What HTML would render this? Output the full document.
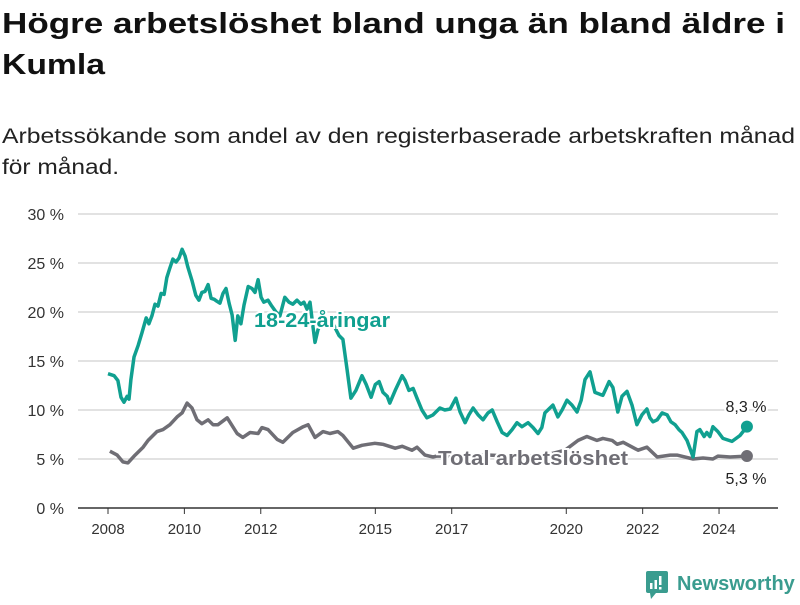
<!DOCTYPE html>
<html><head><meta charset="utf-8"><style>
body{margin:0;width:800px;height:600px;background:#fff;font-family:"Liberation Sans",sans-serif;overflow:hidden;position:relative}
svg{position:absolute;left:0;top:0}
</style></head><body>
<svg width="800" height="190" style="z-index:2">
<text x="2" y="33" font-size="29" font-weight="bold" fill="#111" textLength="783" lengthAdjust="spacingAndGlyphs">Högre arbetslöshet bland unga än bland äldre i</text>
<text x="2" y="74" font-size="29" font-weight="bold" fill="#111" textLength="103" lengthAdjust="spacingAndGlyphs">Kumla</text>
<text x="2" y="143" font-size="21" fill="#222" textLength="793" lengthAdjust="spacingAndGlyphs">Arbetssökande som andel av den registerbaserade arbetskraften månad</text>
<text x="2" y="174" font-size="21" fill="#222" textLength="117" lengthAdjust="spacingAndGlyphs">för månad.</text>
</svg>
<svg id="chart" width="800" height="600"></svg>
<script>
const yTicks=[0,5,10,15,20,25,30];
const xTicks=[2008,2010,2012,2015,2017,2020,2022,2024];
const youthT=[2008.00,2008.16,2008.26,2008.34,2008.42,2008.50,2008.55,2008.60,2008.68,2008.79,2008.89,2009.00,2009.07,2009.15,2009.23,2009.31,2009.39,2009.47,2009.54,2009.62,2009.70,2009.78,2009.86,2009.94,2010.02,2010.09,2010.20,2010.30,2010.38,2010.46,2010.54,2010.62,2010.70,2010.78,2010.85,2010.93,2011.01,2011.09,2011.17,2011.25,2011.33,2011.40,2011.48,2011.56,2011.67,2011.77,2011.85,2011.93,2012.01,2012.08,2012.19,2012.27,2012.40,2012.50,2012.63,2012.74,2012.84,2012.95,2013.05,2013.13,2013.21,2013.29,2013.37,2013.42,2013.50,2013.60,2013.73,2013.87,2013.97,2014.05,2014.15,2014.26,2014.36,2014.49,2014.65,2014.76,2014.89,2015.00,2015.10,2015.20,2015.31,2015.38,2015.52,2015.70,2015.78,2015.88,2015.99,2016.09,2016.22,2016.35,2016.51,2016.69,2016.82,2016.96,2017.11,2017.22,2017.35,2017.45,2017.56,2017.69,2017.82,2017.95,2018.06,2018.19,2018.32,2018.45,2018.58,2018.71,2018.84,2019.00,2019.13,2019.26,2019.36,2019.44,2019.65,2019.78,2019.89,2020.02,2020.15,2020.28,2020.39,2020.49,2020.62,2020.75,2020.88,2020.96,2021.12,2021.22,2021.35,2021.46,2021.59,2021.72,2021.85,2021.98,2022.11,2022.19,2022.27,2022.38,2022.51,2022.64,2022.74,2022.85,2022.95,2023.03,2023.16,2023.32,2023.42,2023.50,2023.61,2023.68,2023.76,2023.84,2023.97,2024.10,2024.34,2024.55,2024.73];
const youthV=[13.7,13.5,13.0,11.3,10.8,11.4,11.1,13.1,15.4,16.6,17.9,19.4,18.8,19.6,20.8,20.6,21.9,21.8,23.5,24.5,25.4,25.1,25.5,26.4,25.7,24.6,23.2,21.7,21.2,22.0,22.1,22.8,21.4,21.3,21.1,20.9,21.9,22.4,20.9,19.7,17.1,19.6,18.8,20.7,22.6,22.4,22.0,23.3,21.5,21.0,21.2,20.7,20.0,19.6,21.5,21.0,20.8,21.2,20.8,21.0,20.3,21.0,18.4,16.9,18.2,19.0,19.0,19.0,18.2,17.6,17.2,14.1,11.2,12.0,13.5,12.6,11.3,12.6,12.9,11.8,11.4,10.7,12.0,13.5,13.0,12.0,12.2,11.2,10.0,9.2,9.5,10.2,10.0,10.1,11.2,9.8,8.7,9.5,10.2,9.5,9.0,9.7,10.0,8.8,7.7,7.4,8.0,8.7,8.3,8.7,8.2,7.6,8.2,9.7,10.5,9.3,10.0,11.0,10.5,9.8,11.0,13.1,13.9,11.8,11.6,11.5,12.9,12.3,9.8,11.4,11.9,10.5,8.5,9.5,10.1,9.2,8.8,9.0,9.7,9.5,8.8,8.5,8.0,7.7,6.9,5.2,7.8,8.0,7.3,7.7,7.3,8.3,7.8,7.1,6.8,7.4,8.3];
const totalT=[2008.05,2008.24,2008.39,2008.52,2008.71,2008.92,2009.05,2009.28,2009.44,2009.62,2009.81,2009.94,2010.07,2010.20,2010.33,2010.46,2010.62,2010.75,2010.88,2011.12,2011.38,2011.53,2011.72,2011.93,2012.03,2012.19,2012.43,2012.58,2012.84,2013.11,2013.24,2013.42,2013.63,2013.81,2014.02,2014.15,2014.42,2014.65,2014.81,2014.99,2015.20,2015.52,2015.70,2015.96,2016.09,2016.30,2016.51,2016.61,2016.96,2017.48,2018.00,2018.53,2019.05,2019.57,2019.97,2020.31,2020.54,2020.80,2020.96,2021.20,2021.33,2021.49,2021.88,2022.11,2022.38,2022.72,2022.90,2023.32,2023.58,2023.84,2023.97,2024.29,2024.73];
const totalV=[5.8,5.4,4.7,4.6,5.4,6.2,6.9,7.8,8.0,8.5,9.3,9.7,10.7,10.2,9.0,8.6,9.0,8.5,8.5,9.2,7.6,7.2,7.7,7.6,8.2,8.0,7.0,6.7,7.7,8.3,8.5,7.2,7.8,7.6,7.8,7.4,6.1,6.4,6.5,6.6,6.5,6.1,6.3,5.9,6.2,5.4,5.2,5.3,5.3,5.4,5.4,5.3,5.3,5.5,5.9,6.9,7.3,6.9,7.1,6.9,6.5,6.7,5.9,6.2,5.2,5.4,5.4,5.0,5.1,5.0,5.3,5.2,5.3];
const NS="http://www.w3.org/2000/svg";
const svg=document.getElementById('chart');
const X=t=>108+(t-2008)*38.19;
const Y=v=>508-v*9.8;
function mk(tag,attrs,parent){const e=document.createElementNS(NS,tag);for(const k in attrs)e.setAttribute(k,attrs[k]);(parent||svg).appendChild(e);return e;}
yTicks.forEach(v=>{
  const l=mk('line',{x1:78,x2:778,y1:Y(v),y2:Y(v),stroke:v===0?'#333':'#d9d9d9','stroke-width':1.5});
  
  
  const t=mk('text',{x:64,y:Y(v)+6,'text-anchor':'end','font-size':16,fill:'#333'});
  t.textContent=v+' %';
  
  
});
xTicks.forEach(yr=>{
  const l=mk('line',{x1:X(yr),x2:X(yr),y1:508,y2:514,stroke:'#333','stroke-width':1});
  
  
  const t=mk('text',{x:X(yr),y:534,'text-anchor':'middle','font-size':15,fill:'#333'});
  t.textContent=yr;
  
  
});
function line(T,V,color,name){
  const d=T.map((t,i)=>(i?'L':'M')+X(t).toFixed(1)+','+Y(V[i]).toFixed(1)).join('');
  const p=mk('path',{d:d,fill:'none',stroke:color,'stroke-width':3.5,'stroke-linejoin':'round'});
  
  
  const n=T.length-1;
  const c=mk('circle',{cx:X(T[n]),cy:Y(V[n]),r:6,fill:color});
  
  
}
line(totalT,totalV,'#6f6e75','total-line');
line(youthT,youthV,'#10a090','youth-line');
function label(x,y,txt,color,name,anchor,weight,size,len){
  const a={x:x,y:y,'text-anchor':anchor,'font-size':size,'font-weight':weight,fill:color,stroke:'#fff','stroke-width':4,'paint-order':'stroke'};
  if(len){a.textLength=len;a.lengthAdjust='spacingAndGlyphs';}
  const t=mk('text',a);
  t.textContent=txt;
  
  
}
label(254,327,'18-24-åringar','#10a090','youth-series-label','start','bold',20,136);
label(438,465,'Total arbetslöshet','#6f6e75','total-series-label','start','bold',20,190);
label(746,412,'8,3 %','#222','youth-last-value','middle','normal',16);
label(746,484,'5,3 %','#222','total-last-value','middle','normal',16);
</script>
<svg width="160" height="40" style="left:640px;top:565px">
<rect x="6" y="6" width="22" height="22" rx="2" fill="#3a9c8f"/>
<polygon points="10,28 16,28 11,34" fill="#3a9c8f"/>
<rect x="10" y="18" width="2.5" height="6" fill="#fff"/><rect x="14.5" y="15" width="2.5" height="9" fill="#fff"/><rect x="19" y="11" width="2.5" height="9" fill="#fff"/><rect x="19" y="22" width="2.5" height="2.5" fill="#fff"/>
<text x="37" y="25" font-size="20" font-weight="bold" fill="#3a9c8f" font-family="Liberation Sans, sans-serif">Newsworthy</text>
</svg>
</body></html>
